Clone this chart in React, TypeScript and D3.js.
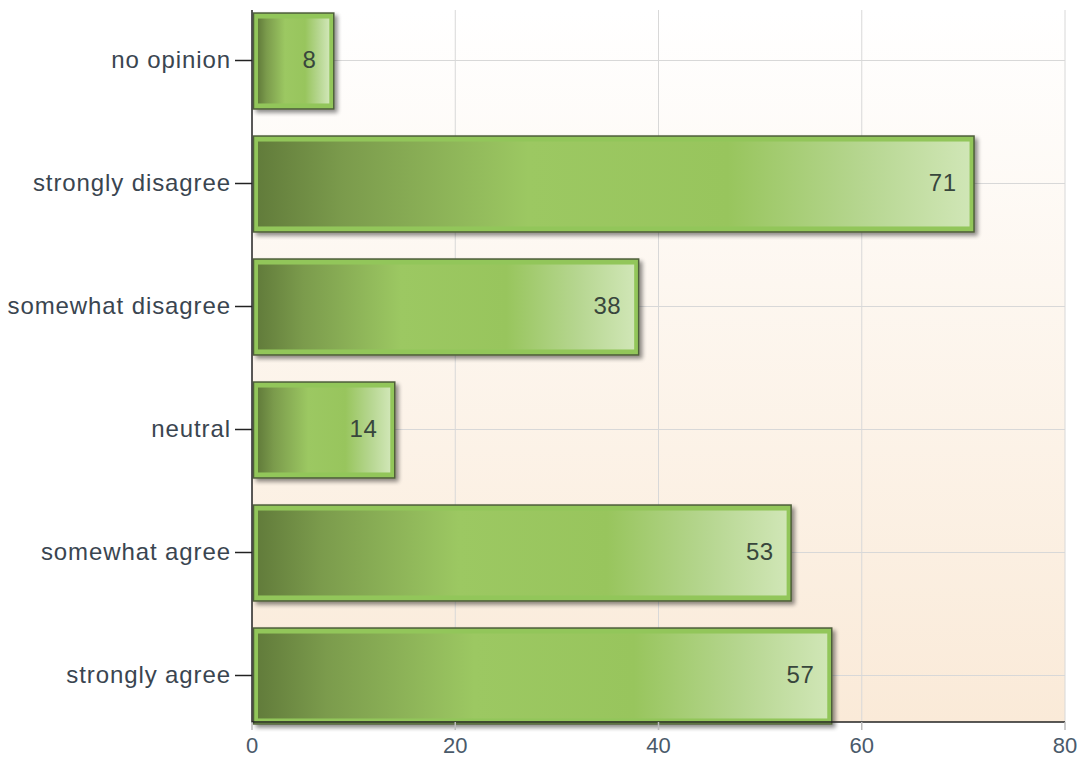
import React, { useEffect, useRef } from "react";
import * as d3 from "d3";

const categories = ["no opinion", "strongly disagree", "somewhat disagree", "neutral", "somewhat agree", "strongly agree"];
const values = [8, 71, 38, 14, 53, 57];
const xTicks = [0, 20, 40, 60, 80];

export default function App() {
  const ref = useRef<HTMLDivElement>(null);

  useEffect(() => {
    const root = d3.select(ref.current);
    root.selectAll("*").remove();

    const width = 1085;
    const height = 762;
    const left = 252, right = 1065, top = 10, bottom = 722;

    const svg = root.append("svg").attr("width", width).attr("height", height)
      .style("display", "block")
      .style("font-family", "'Liberation Sans', Arial, sans-serif");

    const defs = svg.append("defs");
    const bg = defs.append("linearGradient").attr("id", "bg").attr("x1", 0).attr("y1", 0).attr("x2", 0).attr("y2", 1);
    bg.append("stop").attr("offset", 0).attr("stop-color", "#ffffff");
    bg.append("stop").attr("offset", 1).attr("stop-color", "#faead8");

    const barG = defs.append("linearGradient").attr("id", "barG").attr("x1", 0).attr("y1", 0).attr("x2", 1).attr("y2", 0);
    [[0, "#627c3b"], [0.12, "#7b9b4c"], [0.38, "#9cc862"], [0.66, "#98c55d"], [0.85, "#b6d690"], [1, "#d0e6b6"]]
      .forEach(([o, c]) => barG.append("stop").attr("offset", o as number).attr("stop-color", c as string));

    const shadow = defs.append("filter").attr("id", "shadow").attr("x", "-5%").attr("y", "-5%").attr("width", "120%").attr("height", "130%");
    shadow.append("feGaussianBlur").attr("in", "SourceAlpha").attr("stdDeviation", 2);
    shadow.append("feOffset").attr("dx", 3).attr("dy", 3).attr("result", "off");
    shadow.append("feComponentTransfer").append("feFuncA").attr("type", "linear").attr("slope", 0.45);
    const merge = shadow.append("feMerge");
    merge.append("feMergeNode");
    merge.append("feMergeNode").attr("in", "SourceGraphic");

    const x = d3.scaleLinear().domain([0, 80]).range([left, right]);
    const y = d3.scaleBand().domain(categories).range([-1, 737]).paddingInner(0.22).paddingOuter(0.11);
    const mid = (c: string) => y(c)! + y.bandwidth() / 2;

    // background
    svg.append("rect").attr("x", left).attr("y", top).attr("width", right - left).attr("height", bottom - top).attr("fill", "url(#bg)");

    // grid
    svg.append("g").selectAll("line").data(xTicks.slice(1)).join("line")
      .attr("x1", (d) => x(d)).attr("x2", (d) => x(d)).attr("y1", top).attr("y2", bottom)
      .attr("stroke", "#d8d8d8").attr("stroke-width", 1);
    svg.append("g").selectAll("line").data(categories).join("line")
      .attr("x1", left).attr("x2", right)
      .attr("y1", (d) => mid(d)).attr("y2", (d) => mid(d))
      .attr("stroke", "#d8d8d8").attr("stroke-width", 1);

    // bars
    const bars = svg.append("g").selectAll("g").data(values).join("g");
    bars.append("rect")
      .attr("x", x(0) + 1.5)
      .attr("y", (d, i) => y(categories[i])! + 0.5)
      .attr("width", (d) => x(d) - x(0) - 1)
      .attr("height", y.bandwidth())
      .attr("fill", "#92c65a").attr("stroke", "#4e5e3a").attr("stroke-width", 1.5)
      .attr("filter", "url(#shadow)");
    bars.append("rect")
      .attr("x", x(0) + 6)
      .attr("y", (d, i) => y(categories[i])! + 6)
      .attr("width", (d) => x(d) - x(0) - 10)
      .attr("height", y.bandwidth() - 11)
      .attr("fill", "url(#barG)");
    bars.append("text")
      .attr("x", (d) => x(d) - 17)
      .attr("y", (d, i) => mid(categories[i]) + 1)
      .attr("text-anchor", "end").attr("dominant-baseline", "middle")
      .attr("font-size", 24).attr("letter-spacing", 0.5).attr("fill", "#38463c")
      .text((d) => d);

    // axes
    svg.append("line").attr("x1", left).attr("x2", left).attr("y1", top).attr("y2", bottom + 1)
      .attr("stroke", "#222").attr("stroke-width", 1.5);
    svg.append("line").attr("x1", left).attr("x2", right).attr("y1", bottom).attr("y2", bottom)
      .attr("stroke", "#222").attr("stroke-width", 1.5);

    svg.append("g").selectAll("line").data(xTicks).join("line")
      .attr("x1", (d) => x(d)).attr("x2", (d) => x(d)).attr("y1", bottom).attr("y2", bottom + 8)
      .attr("stroke", "#bbb").attr("stroke-width", 1.5);
    svg.append("g").selectAll("text").data(xTicks).join("text")
      .attr("x", (d) => x(d)).attr("y", bottom + 31)
      .attr("text-anchor", "middle").attr("font-size", 22).attr("fill", "#4a5a6a")
      .text((d) => d);

    svg.append("g").selectAll("line").data(categories).join("line")
      .attr("x1", left - 17).attr("x2", left)
      .attr("y1", (d) => mid(d)).attr("y2", (d) => mid(d))
      .attr("stroke", "#222").attr("stroke-width", 1.5);
    svg.append("g").selectAll("text").data(categories).join("text")
      .attr("x", left - 21)
      .attr("y", (d) => mid(d) + 1)
      .attr("text-anchor", "end").attr("dominant-baseline", "middle")
      .attr("font-size", 24).attr("letter-spacing", 0.9).attr("fill", "#3a4550")
      .text((d) => d);
  }, []);

  return <div ref={ref} style={{ position: "absolute", left: 0, top: 0 }}></div>;
}
